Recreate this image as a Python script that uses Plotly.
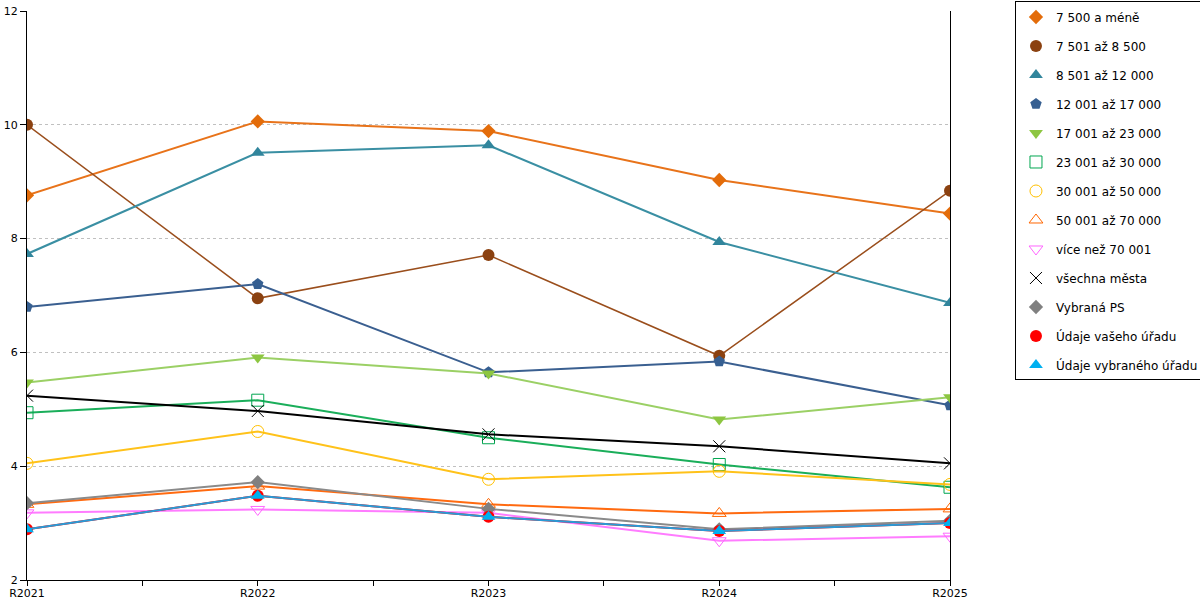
import plotly.graph_objects as go

years = ["R2021", "R2022", "R2023", "R2024", "R2025"]

names = [
    "7 500 a méně", "7 501 až 8 500", "8 501 až 12 000", "12 001 až 17 000",
    "17 001 až 23 000", "23 001 až 30 000", "30 001 až 50 000", "50 001 až 70 000",
    "více než 70 001", "všechna města", "Vybraná PS", "Údaje vašeho úřadu",
    "Údaje vybraného úřadu",
]

s_7500 = [8.76, 10.06, 9.89, 9.03, 8.44]
s_8500 = [10.0, 6.95, 7.71, 5.94, 8.84]
s_12000 = [7.73, 9.51, 9.64, 7.94, 6.87]
s_17000 = [6.80, 7.20, 5.65, 5.84, 5.07]
s_23000 = [5.47, 5.91, 5.63, 4.82, 5.21]
s_30000 = [4.94, 5.16, 4.50, 4.03, 3.63]
s_50000 = [4.05, 4.61, 3.77, 3.91, 3.68]
s_70000 = [3.33, 3.65, 3.33, 3.17, 3.25]
s_over = [3.18, 3.24, 3.18, 2.69, 2.77]
s_all = [5.24, 4.97, 4.56, 4.35, 4.05]
s_ps = [3.35, 3.72, 3.25, 2.89, 3.04]
s_vas = [2.89, 3.48, 3.11, 2.86, 3.00]
s_vyb = [2.89, 3.48, 3.11, 2.86, 3.00]

series = [s_7500, s_8500, s_12000, s_17000, s_23000, s_30000, s_50000,
          s_70000, s_over, s_all, s_ps, s_vas, s_vyb]

line_colors = ["#E8731A", "#9A4E1C", "#3A8FA3", "#3A5F90", "#9BD065", "#1AAE5A",
               "#FFC21A", "#FF6A10", "#FF7CFF", "#000000", "#8A8A8A", "#FF0000",
               "#2A9AD5"]
marker_colors = ["#E36C0A", "#8B4110", "#31859C", "#365F91", "#8DC641", "#00A650",
                 "#FFC000", "#FF6600", "#FF66FF", "#000000", "#808080", "#FF0000",
                 "#00B0F0"]
symbols = ["diamond", "circle", "triangle-up", "pentagon", "triangle-down",
           "square-open", "circle-open", "triangle-up-open", "triangle-down-open",
           "x-thin-open", "diamond", "circle", "triangle-up"]
sizes = [11, 12, 12, 12, 12, 12, 12, 12, 12, 12, 11, 12, 12]
line_widths = [2, 1.5, 2, 2, 2, 2, 2, 2, 2, 2, 2, 2, 2]

xi = list(range(len(years)))

fig = go.Figure()
for i, (nm, vals) in enumerate(zip(names, series)):
    fig.add_trace(go.Scatter(
        x=xi, y=vals, mode="lines", name=nm, showlegend=False,
        legendgroup=f"g{i}", hoverinfo="skip",
        line=dict(color=line_colors[i], width=line_widths[i]),
    ))
    open_sym = symbols[i].endswith("open")
    fig.add_trace(go.Scatter(
        x=xi, y=vals, mode="markers", name=nm, legendgroup=f"g{i}",
        marker=dict(symbol=symbols[i], size=sizes[i], color=marker_colors[i],
                    line=dict(width=1, color=marker_colors[i]) if open_sym else dict(width=0)),
    ))

fig.update_layout(
    width=1200, height=600,
    margin=dict(l=27, r=250, t=10.5, b=19.5, autoexpand=False),
    paper_bgcolor="white", plot_bgcolor="white",
    font=dict(family="DejaVu Sans", size=12, color="#000000"),
    legend=dict(
        x=1.0704, xanchor="left", y=1.0167, yanchor="top",
        bordercolor="#000000", borderwidth=1, bgcolor="white",
        traceorder="grouped", tracegroupgap=10, maxheight=600,
        font=dict(family="DejaVu Sans", size=12),
    ),
    xaxis=dict(
        range=[0, len(years) - 1], tickmode="array", tickvals=xi, ticktext=years,
        showgrid=False, zeroline=False, showline=True, linecolor="#000000",
        linewidth=1, ticks="outside", ticklen=5, tickcolor="#000000",
        tickfont=dict(size=11), automargin=False, ticklabelstandoff=-2,
        minor=dict(tickvals=[0.5, 1.5, 2.5, 3.5], ticks="outside", ticklen=5,
                   tickcolor="#000000", showgrid=False),
    ),
    yaxis=dict(
        range=[2, 12], dtick=2, tick0=2, showgrid=True, gridcolor="#C0C0C0",
        griddash="dot", gridwidth=1, zeroline=False, showline=True,
        linecolor="#000000", linewidth=1, mirror=True, ticks="outside",
        ticklen=6, tickcolor="#000000", tickfont=dict(size=11), automargin=False,
    ),
)

fig.write_html("out.html", config={"displayModeBar": False},
               post_script="document.body.style.margin='0';")
